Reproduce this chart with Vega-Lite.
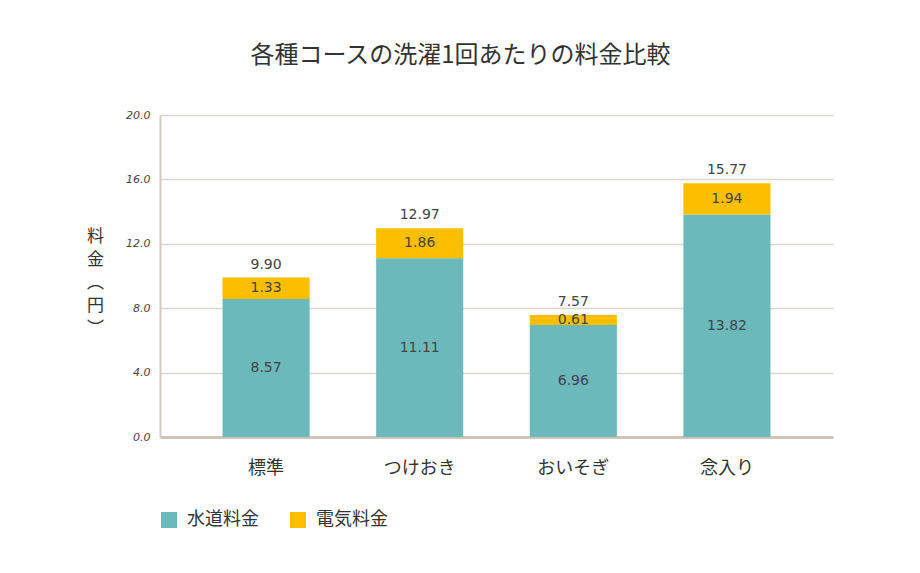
{
  "$schema": "https://vega.github.io/schema/vega-lite/v6.json",
  "width": 673,
  "height": 322,
  "autosize": {"type": "none"},
  "padding": {"left": 160, "top": 115, "right": 87, "bottom": 136},
  "background": "#ffffff",
  "title": {
    "text": "各種コースの洗濯1回あたりの料金比較",
    "fontSize": 24,
    "font": "Noto Sans CJK JP",
    "fontWeight": "normal",
    "color": "#333333",
    "dx": -36,
    "offset": 41
  },
  "datasets": {
    "parts": [
      {"course": "標準", "type": "水道料金", "value": 8.57},
      {"course": "標準", "type": "電気料金", "value": 1.33},
      {"course": "つけおき", "type": "水道料金", "value": 11.11},
      {"course": "つけおき", "type": "電気料金", "value": 1.86},
      {"course": "おいそぎ", "type": "水道料金", "value": 6.96},
      {"course": "おいそぎ", "type": "電気料金", "value": 0.61},
      {"course": "念入り", "type": "水道料金", "value": 13.82},
      {"course": "念入り", "type": "電気料金", "value": 1.94}
    ],
    "totals": [
      {"course": "標準", "total": 9.90},
      {"course": "つけおき", "total": 12.97},
      {"course": "おいそぎ", "total": 7.57},
      {"course": "念入り", "total": 15.77}
    ]
  },
  "encoding": {
    "x": {
      "field": "course",
      "type": "nominal",
      "sort": ["標準", "つけおき", "おいそぎ", "念入り"],
      "scale": {"paddingInner": 0.433, "paddingOuter": 0.407},
      "axis": {
        "title": null,
        "labelAngle": 0,
        "labelFontSize": 18,
        "labelFont": "Noto Sans CJK JP",
        "labelColor": "#333333",
        "labelPadding": 22,
        "ticks": false,
        "domainColor": "#cdc5bc",
        "domainWidth": 3
      }
    }
  },
  "layer": [
    {
      "data": {"name": "parts"},
      "transform": [
        {"stack": "value", "groupby": ["course"], "sort": [{"field": "type"}], "as": ["v0", "v1"]}
      ],
      "mark": {"type": "bar"},
      "encoding": {
        "y": {
          "field": "v0",
          "type": "quantitative",
          "scale": {"domain": [0, 20]},
          "axis": {
            "values": [0, 4, 8, 12, 16, 20],
            "format": ".1f",
            "title": ["料", "金", "︵", "円", "︶"],
            "titleAngle": 0,
            "titleFont": "Noto Sans CJK JP",
            "titleFontSize": 17,
            "titleFontWeight": "normal",
            "titleColor": "#333333",
            "titleLineHeight": 23,
            "titleX": -65,
            "titleY": 113,
            "titleAlign": "center",
            "titleBaseline": "top",
            "labelFont": "DejaVu Sans",
            "labelFontStyle": "italic",
            "labelFontSize": 11,
            "labelColor": "#444444",
            "labelPadding": 10,
            "ticks": false,
            "domainColor": "#d3cbc3",
            "domainWidth": 2,
            "gridColor": "#ddd6cf",
            "gridWidth": 1.5
          }
        },
        "y2": {"field": "v1"},
        "color": {
          "field": "type",
          "type": "nominal",
          "scale": {"domain": ["水道料金", "電気料金"], "range": ["#6cb9bc", "#fcbf00"]},
          "legend": {
            "title": null,
            "orient": "none",
            "legendX": 0,
            "legendY": 396,
            "direction": "horizontal",
            "symbolType": "square",
            "symbolSize": 256,
            "symbolStrokeWidth": 0,
            "labelFont": "Noto Sans CJK JP",
            "labelFontSize": 18,
            "labelColor": "#333333",
            "labelOffset": 9,
            "columnPadding": 30
          }
        }
      }
    },
    {
      "data": {"name": "parts"},
      "transform": [
        {"stack": "value", "groupby": ["course"], "sort": [{"field": "type"}], "as": ["v0", "v1"]},
        {"fold": ["v0", "v1"], "as": ["edge", "pos"]},
        {"aggregate": [{"op": "mean", "field": "pos", "as": "mid"}], "groupby": ["course", "type", "value"]}
      ],
      "mark": {"type": "text", "fontSize": 14, "font": "DejaVu Sans", "color": "#444444", "baseline": "middle"},
      "encoding": {
        "y": {"field": "mid", "type": "quantitative"},
        "text": {"field": "value", "type": "quantitative", "format": ".2f"}
      }
    },
    {
      "data": {"name": "totals"},
      "mark": {"type": "text", "fontSize": 14, "font": "DejaVu Sans", "color": "#444444", "baseline": "bottom", "dy": -6},
      "encoding": {
        "y": {"field": "total", "type": "quantitative"},
        "text": {"field": "total", "type": "quantitative", "format": ".2f"}
      }
    }
  ],
  "config": {"view": {"stroke": null}}
}
